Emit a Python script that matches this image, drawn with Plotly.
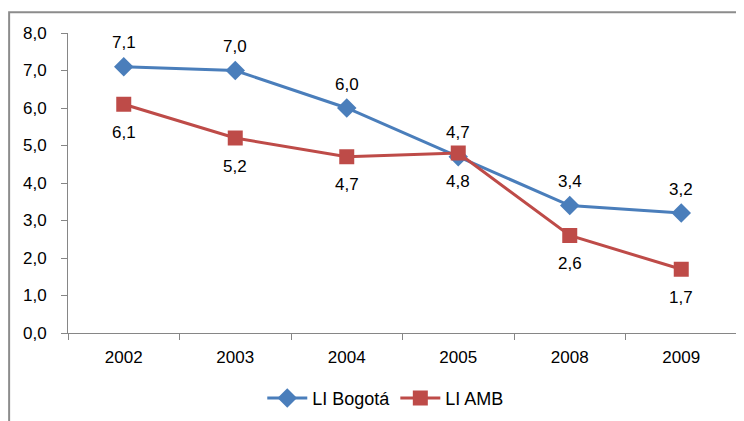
import plotly.graph_objects as go

years = ["2002", "2003", "2004", "2005", "2008", "2009"]
bogota = [7.1, 7.0, 6.0, 4.7, 3.4, 3.2]
amb = [6.1, 5.2, 4.7, 4.8, 2.6, 1.7]
y_ticks = [0, 1, 2, 3, 4, 5, 6, 7, 8]

blue = "#4A7EBB"
red = "#BE4B48"
font = "Liberation Sans"

fig = go.Figure()
fig.add_trace(go.Scatter(x=years, y=bogota, name="LI Bogotá", mode="lines+markers",
                         line=dict(color=blue, width=3),
                         marker=dict(symbol="diamond", size=15, color=blue)))
fig.add_trace(go.Scatter(x=years, y=amb, name="LI AMB", mode="lines+markers",
                         line=dict(color=red, width=3),
                         marker=dict(symbol="square", size=15, color=red)))

# data labels: blue above, red below (x given as category index)
for i, v in enumerate(bogota):
    fig.add_annotation(x=i, y=v, text=f"{v:.1f}".replace(".", ","), showarrow=False,
                       yshift=24, font=dict(size=17, color="#000"))
for i, v in enumerate(amb):
    fig.add_annotation(x=i, y=v, text=f"{v:.1f}".replace(".", ","), showarrow=False,
                       yshift=-28, font=dict(size=17, color="#000"))

# chart border (cropped on the right and bottom)
fig.add_shape(type="rect", xref="paper", yref="paper",
              x0=-0.088, x1=1.06, y0=-0.4, y1=1.0695,
              line=dict(color="#8c8c8c", width=2))

# the page body adds an 8px margin, so the margins here are 8px smaller
fig.update_layout(
    width=744, height=421,
    margin=dict(l=60, r=15, t=25, b=94),
    paper_bgcolor="white", plot_bgcolor="white",
    font=dict(family=font, size=17, color="#000"),
    separators=",.",
    showlegend=True,
    legend=dict(orientation="h", x=0.475, xanchor="center", y=-0.218, yanchor="middle",
                font=dict(size=18), itemwidth=40, tracegroupgap=0),
)
fig.update_xaxes(type="category", showline=True, linecolor="#868686", linewidth=1,
                 ticks="outside", tickson="boundaries", ticklen=6, tickcolor="#868686",
                 showgrid=False, range=[-0.5, 5.5], tickfont=dict(size=17),
                 ticklabelstandoff=9, automargin=False)
fig.update_yaxes(range=[0, 8], tickvals=y_ticks, tickformat=".1f", showline=True,
                 linecolor="#868686", linewidth=1, ticks="outside", ticklen=6,
                 tickcolor="#868686", showgrid=False, zeroline=False,
                 tickfont=dict(size=17), ticklabelstandoff=11, automargin=False)

fig.write_html("out.html")
